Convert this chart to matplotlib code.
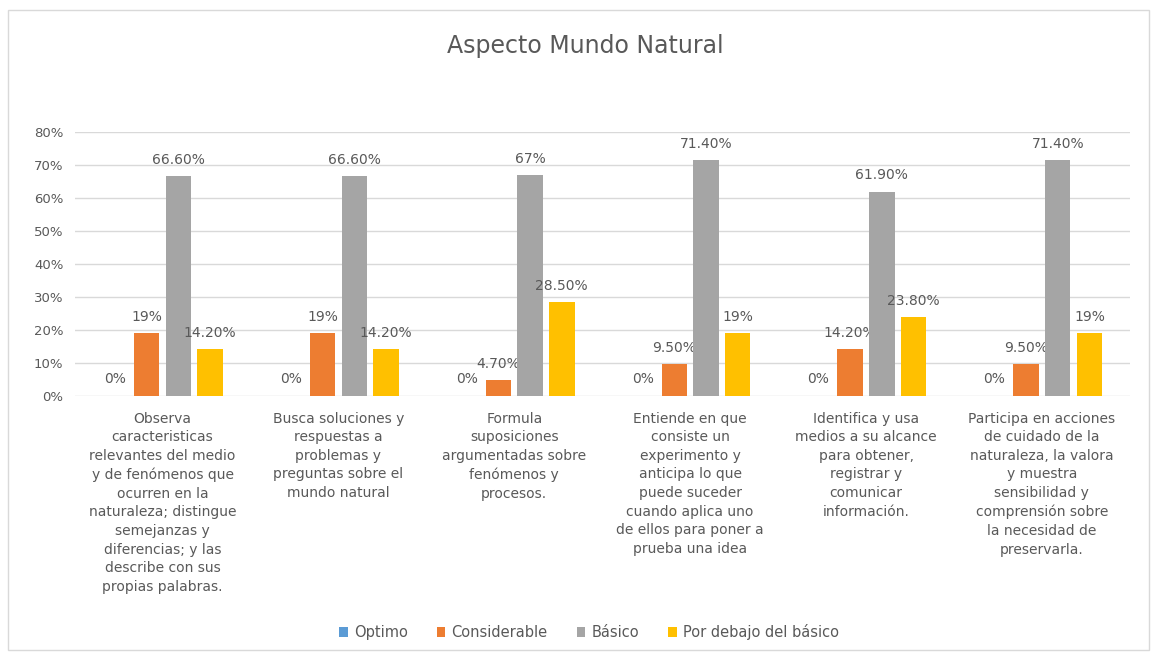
import matplotlib.pyplot as plt
import numpy as np
from matplotlib.patches import Rectangle

plt.rcParams['font.family'] = ['DejaVu Sans']

# dane
categorias = [
    'Observa\ncaracteristicas\nrelevantes del medio\ny de fenómenos que\nocurren en la\nnaturaleza; distingue\nsemejanzas y\ndiferencias; y las\ndescribe con sus\npropias palabras.',
    'Busca soluciones y\nrespuestas a\nproblemas y\npreguntas sobre el\nmundo natural',
    'Formula\nsuposiciones\nargumentadas sobre\nfenómenos y\nprocesos.',
    'Entiende en que\nconsiste un\nexperimento y\nanticipa lo que\npuede suceder\ncuando aplica uno\nde ellos para poner a\nprueba una idea',
    'Identifica y usa\nmedios a su alcance\npara obtener,\nregistrar y\ncomunicar\ninformación.',
    'Participa en acciones\nde cuidado de la\nnaturaleza, la valora\ny muestra\nsensibilidad y\ncomprensión sobre\nla necesidad de\npreservarla.',
]
series = ['Optimo', 'Considerable', 'Básico', 'Por debajo del básico']
optimo = [0, 0, 0, 0, 0, 0]
considerable = [19, 19, 4.7, 9.5, 14.2, 9.5]
basico = [66.6, 66.6, 67, 71.4, 61.9, 71.4]
por_debajo = [14.2, 14.2, 28.5, 19, 23.8, 19]
etiquetas = [
    ['0%', '0%', '0%', '0%', '0%', '0%'],
    ['19%', '19%', '4.70%', '9.50%', '14.20%', '9.50%'],
    ['66.60%', '66.60%', '67%', '71.40%', '61.90%', '71.40%'],
    ['14.20%', '14.20%', '28.50%', '19%', '23.80%', '19%'],
]
kolory = ['#5B9BD5', '#ED7D31', '#A5A5A5', '#FFC000']
tekst = '#595959'

fig = plt.figure(figsize=(11.66, 6.53), dpi=100)
fig.patches.append(Rectangle((0.007, 0.005), 0.978, 0.98, transform=fig.transFigure,
                             fill=False, edgecolor='#D9D9D9', linewidth=1))
ax = fig.add_axes([0.064, 0.394, 0.905, 0.404])

x = np.arange(len(categorias))
slot = 0.18
bw = 0.145
dane = [optimo, considerable, basico, por_debajo]
for i, (vals, kolor, nazwa) in enumerate(zip(dane, kolory, series)):
    pos = x + (i - 1.5) * slot
    ax.bar(pos, np.array(vals) / 100, width=bw, color=kolor, label=nazwa, zorder=3)
    for p, v, lab in zip(pos, vals, etiquetas[i]):
        ax.text(p, v / 100 + 0.028, lab, ha='center', va='bottom',
                fontsize=10, color=tekst)

ax.set_xlim(-0.5, len(categorias) - 0.5)
ax.set_ylim(0, 0.8)
ax.set_yticks(np.arange(0, 0.81, 0.1))
ax.set_yticklabels([f'{int(round(t * 100))}%' for t in np.arange(0, 0.81, 0.1)],
                   fontsize=9.5, color=tekst)
ax.yaxis.grid(True, color='#D9D9D9', linewidth=1, zorder=0)
ax.set_xticks([])
for s in ax.spines.values():
    s.set_visible(False)
ax.tick_params(axis='y', length=0, pad=8)

for xi, lab in zip(x, categorias):
    ax.text(xi, -0.06, lab, transform=ax.get_xaxis_transform(), ha='center', va='top',
            fontsize=10, color=tekst, linespacing=1.42)

fig.text(0.502, 0.93, 'Aspecto Mundo Natural', ha='center', va='center',
         fontsize=17, color=tekst)
fig.legend(loc='center', bbox_to_anchor=(0.505, 0.032), ncol=4, frameon=False,
           fontsize=10.5, labelcolor=tekst, handlelength=0.6, handleheight=0.6,
           handletextpad=0.4, columnspacing=2.0)

fig.savefig('out.png', dpi=100)
